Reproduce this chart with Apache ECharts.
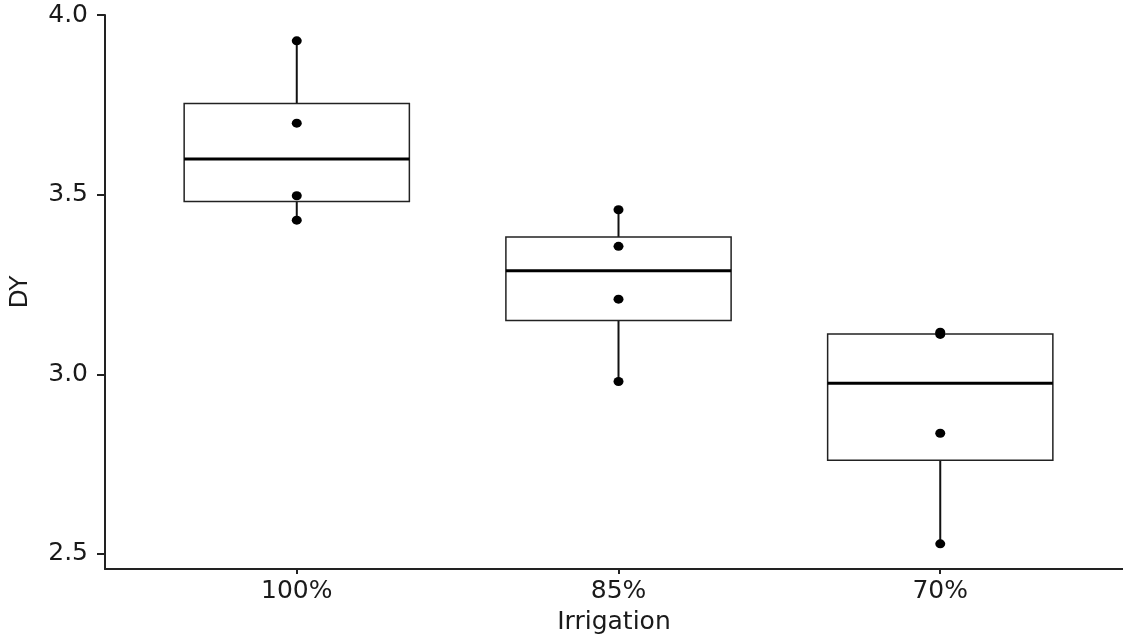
<!DOCTYPE html>
<html>
<head>
<meta charset="utf-8">
<script src="https://cdn.jsdelivr.net/npm/echarts@6/dist/echarts.min.js"></script>
<style>
html,body{margin:0;padding:0;background:#fff;}
#chart{width:1123px;height:640px;}
</style>
</head>
<body>
<div id="chart"></div>
<script>
// ---- data ----
var categories = ['100%', '85%', '70%'];
var whiskerLow  = [3.429, 2.980, 2.528];
var q1          = [3.481, 3.150, 2.761];
var median      = [3.599, 3.288, 2.975];
var q3          = [3.754, 3.382, 3.112];
var whiskerHigh = [3.928, 3.458, 3.117];
var points100 = [3.928, 3.699, 3.497, 3.429];
var points85  = [3.458, 3.356, 3.209, 2.980];
var points70  = [3.117, 3.111, 2.836, 2.528];
var yTicks = [2.5, 3.0, 3.5, 4.0];
var xTicks = [1, 2, 3];

var pointGroups = [points100, points85, points70];
var boxData = categories.map(function (c, i) {
  return [i + 1, whiskerLow[i], q1[i], median[i], q3[i], whiskerHigh[i]];
});
var scatterData = [];
pointGroups.forEach(function (g, i) {
  g.forEach(function (v) { scatterData.push([i + 1, v]); });
});

var FONT = 'DejaVu Sans';
var HALF = 0.35;

var chart = echarts.init(document.getElementById('chart'), null, {renderer: 'canvas'});
chart.setOption({
  backgroundColor: '#ffffff',
  animation: false,
  grid: {left: 104, right: 0, top: 15, bottom: 70.5, containLabel: false},
  xAxis: {
    type: 'value',
    min: 0.404, max: 3.568,
    name: 'Irrigation',
    nameLocation: 'middle',
    nameGap: 41,
    nameTextStyle: {fontFamily: FONT, fontSize: 25, color: '#1a1a1a'},
    axisLine: {show: true, lineStyle: {color: '#222', width: 2}},
    axisTick: {show: true, customValues: xTicks, length: 5, lineStyle: {color: '#222', width: 2}},
    axisLabel: {
      customValues: xTicks, margin: 10,
      fontFamily: FONT, fontSize: 25, color: '#1a1a1a',
      formatter: function (v) { return categories[Math.round(v) - 1]; }
    },
    splitLine: {show: false}
  },
  yAxis: {
    type: 'value',
    min: 2.458, max: 4.0,
    name: 'DY',
    nameLocation: 'middle',
    nameGap: 72,
    nameTextStyle: {fontFamily: FONT, fontSize: 25, color: '#1a1a1a'},
    axisLine: {show: true, lineStyle: {color: '#222', width: 2}},
    axisTick: {show: true, customValues: yTicks, length: 8, lineStyle: {color: '#222', width: 2}},
    axisLabel: {
      customValues: yTicks, margin: 17,
      fontFamily: FONT, fontSize: 25, color: '#1a1a1a',
      formatter: function (v) { return v.toFixed(1); }
    },
    splitLine: {show: false}
  },
  series: [
    {
      type: 'custom',
      data: boxData,
      encode: {x: 0, y: [1, 2, 3, 4, 5]},
      renderItem: function (params, api) {
        var x = api.value(0);
        var lo = api.value(1), a = api.value(2), m = api.value(3), b = api.value(4), hi = api.value(5);
        var pHi = api.coord([x, hi]), pB = api.coord([x, b]);
        var pA = api.coord([x, a]), pLo = api.coord([x, lo]);
        var tl = api.coord([x - HALF, b]), br = api.coord([x + HALF, a]);
        var ml = api.coord([x - HALF, m]), mr = api.coord([x + HALF, m]);
        return {
          type: 'group',
          children: [
            {type: 'line', shape: {x1: pHi[0], y1: pHi[1], x2: pB[0], y2: pB[1]}, style: {stroke: '#111', lineWidth: 2}},
            {type: 'line', shape: {x1: pA[0], y1: pA[1], x2: pLo[0], y2: pLo[1]}, style: {stroke: '#111', lineWidth: 2}},
            {type: 'rect', shape: {x: tl[0], y: tl[1], width: br[0] - tl[0], height: br[1] - tl[1]}, style: {stroke: '#222', lineWidth: 1.5, fill: '#fff'}},
            {type: 'line', shape: {x1: ml[0], y1: ml[1], x2: mr[0], y2: mr[1]}, style: {stroke: '#000', lineWidth: 3}}
          ]
        };
      },
      z: 2
    },
    {
      type: 'scatter',
      data: scatterData,
      symbol: 'circle',
      symbolSize: [10, 9],
      itemStyle: {color: '#000', opacity: 1},
      z: 3
    }
  ]
});
</script>
</body>
</html>
